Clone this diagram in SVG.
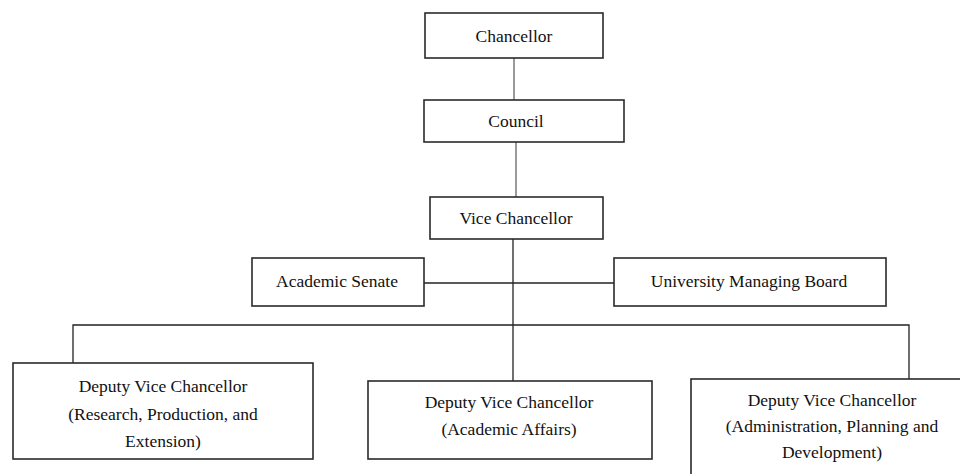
<svg xmlns="http://www.w3.org/2000/svg" width="960" height="474" viewBox="0 0 960 474">
<style>
.box{fill:#fff;stroke:#2a2a2a;stroke-width:1.6}
.ln{fill:none;stroke:#222;stroke-width:1.3}
.gr{stroke:#808080;stroke-width:1.6}
text{font-family:"Liberation Serif","Times New Roman",serif;font-size:17.5px;fill:#111;text-anchor:middle}
</style>
<rect width="960" height="474" fill="#fff"/>
<g id="connectors">
<line class="ln gr" x1="514" y1="58" x2="514" y2="100"/>
<line class="ln gr" x1="516" y1="142" x2="516" y2="197"/>
<line class="ln" x1="513" y1="239" x2="513" y2="381"/>
<line class="ln" x1="424" y1="283" x2="614" y2="283"/>
<polyline class="ln" points="73,363 73,325 909,325 909,379"/>
</g>
<g id="chancellor">
<rect class="box" x="425" y="13" width="178" height="45"/>
<text x="514" y="42">Chancellor</text>
</g>
<g id="council">
<rect class="box" x="424" y="100" width="200" height="42"/>
<text x="516" y="127">Council</text>
</g>
<g id="vice-chancellor">
<rect class="box" x="430" y="197" width="173" height="42"/>
<text x="516" y="224">Vice Chancellor</text>
</g>
<g id="academic-senate">
<rect class="box" x="252" y="258" width="172" height="48"/>
<text x="337" y="287">Academic Senate</text>
</g>
<g id="university-managing-board">
<rect class="box" x="614" y="258" width="272" height="48"/>
<text x="749" y="287">University Managing Board</text>
</g>
<g id="dvc-research">
<rect class="box" x="13" y="363" width="300" height="96"/>
<text x="163" y="392">Deputy Vice Chancellor</text>
<text x="163" y="420">(Research, Production, and</text>
<text x="163" y="447">Extension)</text>
</g>
<g id="dvc-academic">
<rect class="box" x="368" y="381" width="284" height="78"/>
<text x="509" y="408">Deputy Vice Chancellor</text>
<text x="509" y="435">(Academic Affairs)</text>
</g>
<g id="dvc-administration">
<rect class="box" x="691" y="379" width="282" height="110"/>
<text x="832" y="406">Deputy Vice Chancellor</text>
<text x="832" y="432">(Administration, Planning and</text>
<text x="832" y="458">Development)</text>
</g>
</svg>
